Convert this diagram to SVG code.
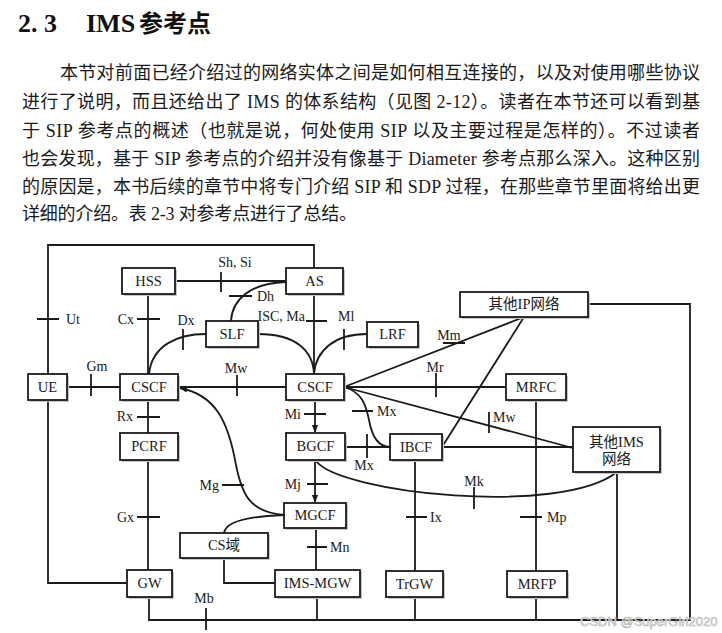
<svg xmlns="http://www.w3.org/2000/svg" width="722" height="633" viewBox="0 0 722 633">
<defs>
<marker id="arr" viewBox="0 0 10 10" refX="9" refY="5" markerWidth="8" markerHeight="8" markerUnits="userSpaceOnUse" orient="auto"><path d="M0,1 L10,5 L0,9 Z" fill="#1a1a1a"/></marker>
<style>
.bg{fill:#fff}
.ln{fill:none;stroke:#1a1a1a;stroke-width:1.8}
.tk{fill:none;stroke:#1a1a1a;stroke-width:1.8}
.bx{fill:#fff;stroke:#1a1a1a;stroke-width:1.8}
.sh{fill:#c4c4c4}
.nt{font-family:"Liberation Serif","Noto Sans CJK SC",serif;font-size:14.5px;fill:#1a1a1a;text-anchor:middle}
.lb{font-family:"Liberation Serif",serif;font-size:14px;fill:#1a1a1a}
.p{font-family:"Liberation Serif","Noto Sans CJK SC",serif;font-size:18px;fill:#1a1a1a}
.h{font-family:"Liberation Serif",serif;font-size:26px;font-weight:bold;fill:#111}
.hc{font-family:"Noto Sans CJK SC",sans-serif;font-size:24px;font-weight:bold;fill:#111}
.wm{font-family:"Liberation Sans",sans-serif;font-size:13px;fill:#e8e8e8;stroke:#b8b8b8;stroke-width:0.6}
</style>
</defs>
<rect class="bg" width="722" height="633"/>

<g id="heading">
<text class="h" x="18" y="32">2. 3</text>
<text class="h" x="86" y="32">IMS</text>
<text class="hc" x="139" y="32">参考点</text>
</g>
<g id="paragraph">
<text class="p" x="60" y="79" textLength="640" lengthAdjust="spacing">本节对前面已经介绍过的网络实体之间是如何相互连接的，以及对使用哪些协议</text>
<text class="p" x="22" y="108" textLength="678" lengthAdjust="spacing">进行了说明，而且还给出了 IMS 的体系结构（见图 2-12）。读者在本节还可以看到基</text>
<text class="p" x="22" y="137" textLength="678" lengthAdjust="spacing">于 SIP 参考点的概述（也就是说，何处使用 SIP 以及主要过程是怎样的）。不过读者</text>
<text class="p" x="22" y="165" textLength="678" lengthAdjust="spacing">也会发现，基于 SIP 参考点的介绍并没有像基于 Diameter 参考点那么深入。这种区别</text>
<text class="p" x="22" y="193" textLength="678" lengthAdjust="spacing">的原因是，本书后续的章节中将专门介绍 SIP 和 SDP 过程，在那些章节里面将给出更</text>
<text class="p" x="22" y="220" textLength="335" lengthAdjust="spacing">详细的介绍。表 2-3 对参考点进行了总结。</text>
</g>

<g id="connectors">
<path class="ln" d="M48,374 V245 H314 V268"/>
<path class="ln" d="M48,400 V583 H127"/>
<path class="ln" d="M175,281 H286"/>
<path class="ln" d="M286,282 C250,283 232,300 231,321"/>
<path class="ln" d="M148,294 V374"/>
<path class="ln" d="M67,387 H120"/>
<path class="ln" d="M149,374 C152,345 178,334 206,334"/>
<path class="ln" d="M258,334 C295,334 313,350 314,374"/>
<path class="ln" d="M314,294 V374"/>
<path class="ln" d="M314,374 C316,350 335,334 367,334"/>
<path class="ln" d="M178,387 H286"/>
<path class="ln" d="M148,400 V433"/>
<path class="ln" d="M148,460 V570"/>
<path class="ln" d="M149,597 V620 H690 V304 H588"/>
<path class="ln" d="M315,400 V432" marker-end="url(#arr)"/>
<path class="ln" d="M315,460 V502" marker-end="url(#arr)"/>
<path class="ln" d="M284,515 C250,512 242,495 236,465 C228,420 215,395 180,388" marker-end="url(#arr)"/>
<path class="ln" d="M284,515 C255,516 226,520 224,533"/>
<path class="ln" d="M224,558 V583 H275"/>
<path class="ln" d="M316,528 V570"/>
<path class="ln" d="M317,597 V620"/>
<path class="ln" d="M345,447 H390"/>
<path class="ln" d="M344,387 C362,392 366,405 369,420 C372,437 378,447 390,447"/>
<path class="ln" d="M344,387 H506"/>
<path class="ln" d="M344,387 L524,317"/>
<path class="ln" d="M524,317 L442,447"/>
<path class="ln" d="M344,387 L573,448"/>
<path class="ln" d="M442,447 H573"/>
<path class="ln" d="M536,400 V571"/>
<path class="ln" d="M536,597 V620"/>
<path class="ln" d="M415,460 V571"/>
<path class="ln" d="M415,597 V620"/>
<path class="ln" d="M617,472 V620"/>
<path class="ln" d="M316,461 C340,493 560,517 617,472"/>
<!-- ticks -->
<path class="tk" d="M221,272 V292 M229,296 H252 M137,319 H160 M37,319 H59 M91,374 V396 M183,329 V350 M306,321 H327 M344,329 V350 M237,375 V396 M137,417 H160 M137,517 H160 M206,608 V630 M304,414 H326 M307,484 H328 M222,485 H244 M307,547 H327 M367,434 V458 M352,411 H373 M436,373 V397 M443,343 H465 M489,412 V433 M520,517 H542 M406,517 H427 M474,487 V509"/>
<!-- labels -->
<text class="lb" x="235" y="267" text-anchor="middle">Sh, Si</text>
<text class="lb" x="257" y="301">Dh</text>
<text class="lb" x="66" y="324">Ut</text>
<text class="lb" x="134" y="324" text-anchor="end">Cx</text>
<text class="lb" x="186" y="325" text-anchor="middle">Dx</text>
<text class="lb" x="305" y="321" text-anchor="end">ISC, Ma</text>
<text class="lb" x="338" y="321">Ml</text>
<text class="lb" x="97" y="371" text-anchor="middle">Gm</text>
<text class="lb" x="236" y="373" text-anchor="middle">Mw</text>
<text class="lb" x="133" y="421" text-anchor="end">Rx</text>
<text class="lb" x="134" y="522" text-anchor="end">Gx</text>
<text class="lb" x="219" y="490" text-anchor="end">Mg</text>
<text class="lb" x="301" y="419" text-anchor="end">Mi</text>
<text class="lb" x="301" y="489" text-anchor="end">Mj</text>
<text class="lb" x="330" y="552">Mn</text>
<text class="lb" x="204" y="603" text-anchor="middle">Mb</text>
<text class="lb" x="377" y="416">Mx</text>
<text class="lb" x="364" y="470" text-anchor="middle">Mx</text>
<text class="lb" x="435" y="372" text-anchor="middle">Mr</text>
<text class="lb" x="449" y="340" text-anchor="middle">Mm</text>
<text class="lb" x="493" y="422">Mw</text>
<text class="lb" x="474" y="486" text-anchor="middle">Mk</text>
<text class="lb" x="430" y="522">Ix</text>
<text class="lb" x="547" y="522">Mp</text>
</g>

<g id="HSS"><rect class="sh" x="124" y="270" width="53" height="26"/><rect class="bx" x="122" y="268" width="53" height="26"/><text class="nt" x="148.5" y="286">HSS</text></g>
<g id="AS"><rect class="sh" x="288" y="270" width="57" height="26"/><rect class="bx" x="286" y="268" width="57" height="26"/><text class="nt" x="314.5" y="286">AS</text></g>
<g id="SLF"><rect class="sh" x="208" y="323" width="52" height="26"/><rect class="bx" x="206" y="321" width="52" height="26"/><text class="nt" x="232" y="339">SLF</text></g>
<g id="LRF"><rect class="sh" x="369" y="324" width="51" height="25"/><rect class="bx" x="367" y="322" width="51" height="25"/><text class="nt" x="392.5" y="339">LRF</text></g>
<g id="UE"><rect class="sh" x="30" y="376" width="39" height="26"/><rect class="bx" x="28" y="374" width="39" height="26"/><text class="nt" x="47.5" y="392">UE</text></g>
<g id="CSCF-1"><rect class="sh" x="122" y="376" width="58" height="26"/><rect class="bx" x="120" y="374" width="58" height="26"/><text class="nt" x="149" y="392">CSCF</text></g>
<g id="CSCF-2"><rect class="sh" x="288" y="376" width="58" height="26"/><rect class="bx" x="286" y="374" width="58" height="26"/><text class="nt" x="315" y="392">CSCF</text></g>
<g id="IP-network"><rect class="sh" x="462" y="294" width="128" height="25"/><rect class="bx" x="460" y="292" width="128" height="25"/><text class="nt" x="524" y="309">其他IP网络</text></g>
<g id="MRFC"><rect class="sh" x="508" y="376" width="60" height="26"/><rect class="bx" x="506" y="374" width="60" height="26"/><text class="nt" x="536" y="392">MRFC</text></g>
<g id="PCRF"><rect class="sh" x="122" y="435" width="58" height="27"/><rect class="bx" x="120" y="433" width="58" height="27"/><text class="nt" x="149" y="451">PCRF</text></g>
<g id="BGCF"><rect class="sh" x="288" y="435" width="59" height="27"/><rect class="bx" x="286" y="433" width="59" height="27"/><text class="nt" x="315.5" y="451">BGCF</text></g>
<g id="IBCF"><rect class="sh" x="392" y="436" width="52" height="26"/><rect class="bx" x="390" y="434" width="52" height="26"/><text class="nt" x="416" y="452">IBCF</text></g>
<g id="IMS-network"><rect class="sh" x="575" y="429" width="87" height="45"/><rect class="bx" x="573" y="427" width="87" height="45"/><text class="nt" x="616.5" y="447">其他IMS</text><text class="nt" x="616.5" y="464">网络</text></g>
<g id="MGCF"><rect class="sh" x="286" y="505" width="62" height="25"/><rect class="bx" x="284" y="503" width="62" height="25"/><text class="nt" x="315" y="520">MGCF</text></g>
<g id="CS"><rect class="sh" x="182" y="535" width="88" height="25"/><rect class="bx" x="180" y="533" width="88" height="25"/><text class="nt" x="224" y="550">CS域</text></g>
<g id="GW"><rect class="sh" x="129" y="572" width="45" height="27"/><rect class="bx" x="127" y="570" width="45" height="27"/><text class="nt" x="149.5" y="588">GW</text></g>
<g id="IMS-MGW"><rect class="sh" x="277" y="572" width="85" height="27"/><rect class="bx" x="275" y="570" width="85" height="27"/><text class="nt" x="317.5" y="588">IMS-MGW</text></g>
<g id="TrGW"><rect class="sh" x="388" y="573" width="57" height="26"/><rect class="bx" x="386" y="571" width="57" height="26"/><text class="nt" x="414.5" y="589">TrGW</text></g>
<g id="MRFP"><rect class="sh" x="509" y="573" width="60" height="26"/><rect class="bx" x="507" y="571" width="60" height="26"/><text class="nt" x="537" y="589">MRFP</text></g>

<text class="wm" x="580" y="626">CSDN @SuperGirl2020</text>
</svg>
